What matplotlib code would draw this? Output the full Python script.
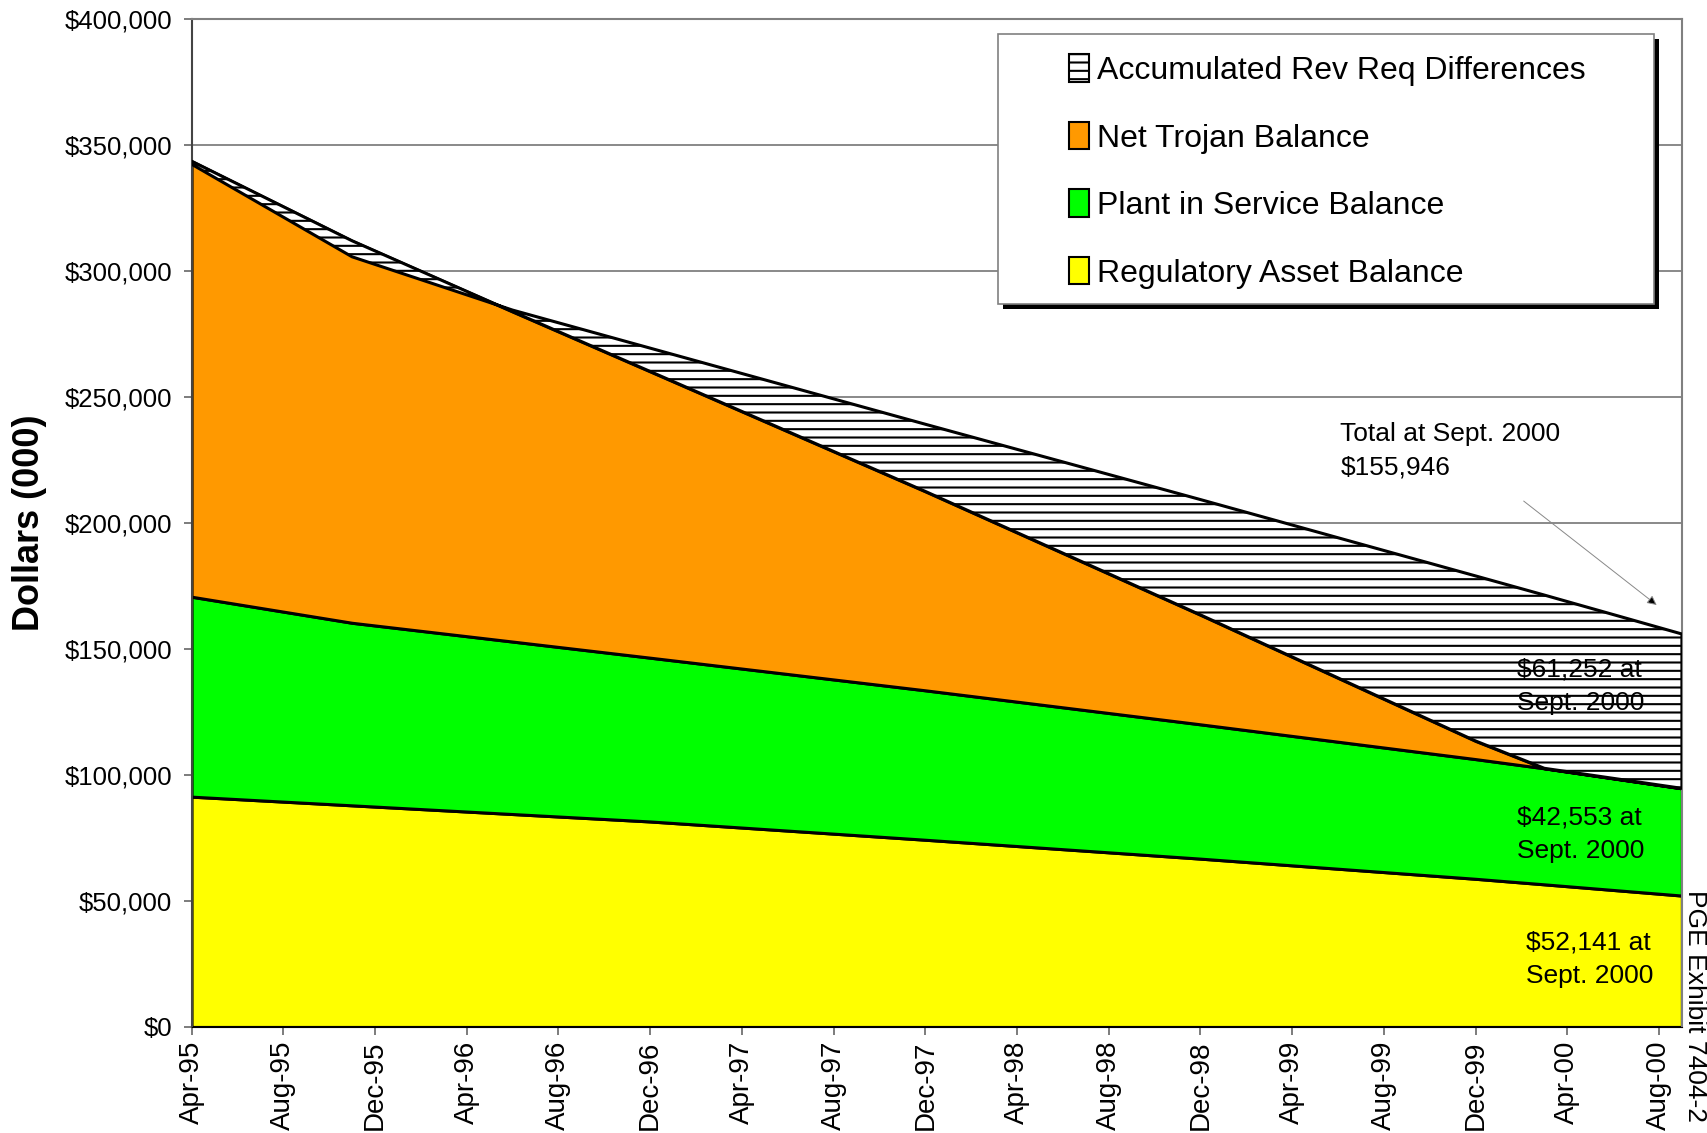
import matplotlib
matplotlib.use('Agg')
import numpy as np
import matplotlib.pyplot as plt
from matplotlib.patches import Patch, Rectangle
from matplotlib.ticker import StrMethodFormatter

plt.rcParams['font.family'] = ['Liberation Sans', 'DejaVu Sans']
plt.rcParams['hatch.linewidth'] = 1.5

# balances (thousands of dollars) at the months where the curves bend
point_months = ['Apr-95', 'Nov-95', 'Jun-96', 'Dec-96', 'Dec-97',
                'Dec-98', 'Dec-99', 'Mar-00', 'Sep-00']
regulatory = [91400, 87950, 84500, 81550, 74300, 66800, 58800, 56600, 52141]
plant = [79350, 72450, 68450, 65000, 59300, 53300, 47500, 46050, 42553]
trojan = [172850, 151600, 130950, 113600, 78950, 43450, 7200, 0, 0]
rev_req_diff = [-1200, -6350, 600, 9250, 26650, 45750, 65500, 68750, 61252]

series_names = ['Accumulated Rev Req Differences', 'Net Trojan Balance',
                'Plant in Service Balance', 'Regulatory Asset Balance']

x_tick_labels = ['Apr-95', 'Aug-95', 'Dec-95', 'Apr-96', 'Aug-96', 'Dec-96',
                 'Apr-97', 'Aug-97', 'Dec-97', 'Apr-98', 'Aug-98', 'Dec-98',
                 'Apr-99', 'Aug-99', 'Dec-99', 'Apr-00', 'Aug-00']
y_ticks = [0, 50000, 100000, 150000, 200000, 250000, 300000, 350000, 400000]

MONTHS = ['Jan', 'Feb', 'Mar', 'Apr', 'May', 'Jun',
          'Jul', 'Aug', 'Sep', 'Oct', 'Nov', 'Dec']


def month_index(label):
    # months counted from Apr-95
    mon, yr = label.split('-')
    year = 1900 + int(yr) if int(yr) > 50 else 2000 + int(yr)
    return (year - 1995) * 12 + MONTHS.index(mon) - 3


x = np.array([month_index(s) for s in point_months])
cum1 = np.array(regulatory, dtype=float)
cum2 = cum1 + np.array(plant)
cum3 = cum2 + np.array(trojan)
cum4 = cum3 + np.array(rev_req_diff)

fig = plt.figure(figsize=(17.07, 11.33), dpi=100)
ax = fig.add_axes([0.1122, 0.0936, 0.8731, 0.8896])

ax.fill_between(x, 0, cum1, facecolor='#FFFF00', edgecolor='black', lw=2.2, zorder=2)
ax.fill_between(x, cum1, cum2, facecolor='#00FF00', edgecolor='black', lw=2.2, zorder=2)
ax.fill_between(x, cum2, cum3, facecolor='#FF9900', edgecolor='black', lw=2.2, zorder=2)
ax.fill_between(x, cum3, cum4, facecolor='white', edgecolor='black', hatch='--',
                lw=2.2, zorder=3)

ax.set_xlim(0, month_index('Sep-00'))
ax.set_ylim(0, 400000)
ax.set_xticks([month_index(s) for s in x_tick_labels])
ax.set_xticklabels(x_tick_labels, rotation=90, fontsize=20)
ax.set_yticks(y_ticks)
ax.yaxis.set_major_formatter(StrMethodFormatter('${x:,.0f}'))
ax.tick_params(axis='y', labelsize=18.5, length=6, width=1.2, color='#666666', pad=8)
ax.tick_params(axis='x', length=6, width=1.2, color='#666666', pad=4)
ax.grid(axis='y', color='#808080', lw=1.3)
ax.set_axisbelow(True)
for side in ['top', 'right']:
    ax.spines[side].set_color('#808080')
    ax.spines[side].set_linewidth(1.5)
ax.spines['left'].set_color('#444444')
ax.spines['left'].set_linewidth(1.5)
ax.spines['bottom'].set_color('black')

ax.set_ylabel('Dollars (000)', fontsize=26, fontweight='bold')
ax.yaxis.set_label_coords(-0.097, 0.5)

# value notes at the last month
ax.text(50.1, 228500, 'Total at Sept. 2000\n$155,946', fontsize=19,
        ha='left', va='center', linespacing=1.5)
ax.annotate('', xy=(63.9, 167450), xytext=(58.1, 208700),
            arrowprops=dict(arrowstyle='-|>', lw=0.7, ec='#888888', fc='black',
                            mutation_scale=14, shrinkA=0, shrinkB=0))
ax.text(57.8, 135300, '$61,252 at\nSept. 2000', fontsize=19, ha='left',
        va='center', linespacing=1.5, zorder=5)
ax.text(57.8, 76300, '$42,553 at\nSept. 2000', fontsize=19, ha='left',
        va='center', linespacing=1.5, zorder=5)
ax.text(58.2, 26800, '$52,141 at\nSept. 2000', fontsize=19, ha='left',
        va='center', linespacing=1.5, zorder=5)

fig.text(0.993, 0.2145, 'PGE Exhibit 7404-2', fontsize=19, rotation=270,
         ha='center', va='top')

# legend box with a hard drop shadow
W, H = 1707.0, 1133.0
bx, by, bw, bh = 998 / W, 1 - 304 / H, 656 / W, 270 / H
fig.add_artist(Rectangle((bx + 5 / W, by - 5 / H), bw, bh, transform=fig.transFigure,
                         facecolor='black', edgecolor='none', zorder=5))
fig.add_artist(Rectangle((bx, by), bw, bh, transform=fig.transFigure,
                         facecolor='white', edgecolor='#808080', lw=1.2, zorder=6))
handles = [Patch(facecolor='white', edgecolor='black', hatch='--', lw=1.5),
           Patch(facecolor='#FF9900', edgecolor='black', lw=1.5),
           Patch(facecolor='#00FF00', edgecolor='black', lw=1.5),
           Patch(facecolor='#FFFF00', edgecolor='black', lw=1.5)]
leg = fig.legend(handles, series_names, loc='center left',
                 bbox_to_anchor=(1069 / W, 1 - 171.5 / H), bbox_transform=fig.transFigure,
                 frameon=False, borderpad=0, borderaxespad=0, fontsize=23,
                 handlelength=0.63, handleheight=0.95, handletextpad=0.25,
                 labelspacing=1.12)
leg.set_zorder(7)

fig.savefig('out.png', dpi=100)
